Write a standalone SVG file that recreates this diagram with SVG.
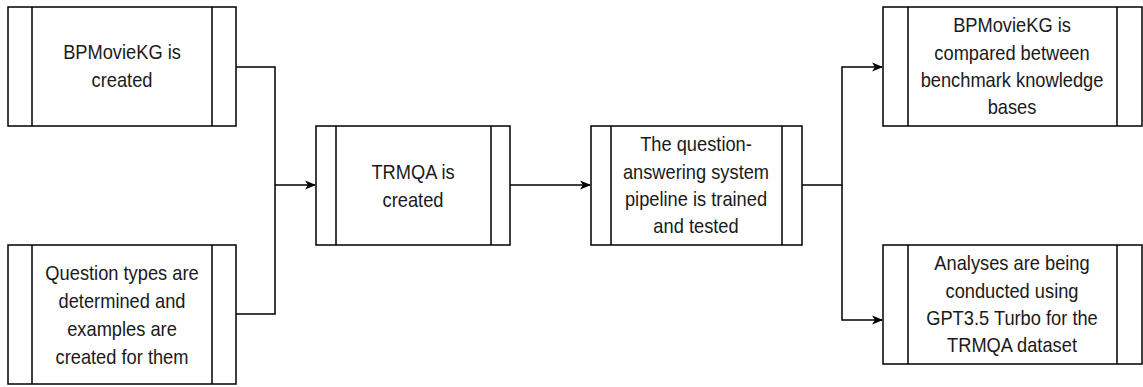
<svg xmlns="http://www.w3.org/2000/svg" width="1143" height="387" viewBox="0 0 1143 387">
<defs>
<marker id="arr" viewBox="0 0 10 10" refX="9" refY="5" markerWidth="11" markerHeight="11" markerUnits="userSpaceOnUse" orient="auto">
<path d="M0,1 L10,5 L0,9 L2.5,5 Z" fill="#000"/>
</marker>
<style>
.box{fill:#fff;stroke:#000;stroke-width:1.5}
.ln{stroke:#000;stroke-width:1.5;fill:none}
.t{font-family:"Liberation Sans",Arial,sans-serif;font-size:21px;fill:#1a1a1a;text-anchor:middle}
</style>
</defs>
<rect width="1143" height="387" fill="#fff"/>
<g id="connectors">
<path class="ln" d="M236,67 H275 V314 H236"/>
<path class="ln" d="M275,185 H315" marker-end="url(#arr)"/>
<path class="ln" d="M510,185 H590" marker-end="url(#arr)"/>
<path class="ln" d="M802,185 H842 V67 H882" marker-end="url(#arr)"/>
<path class="ln" d="M842,185 V320 H882" marker-end="url(#arr)"/>
</g>
<g id="n1">
<rect class="box" x="8" y="7" width="228" height="119"/>
<path class="ln" d="M32,7 V126 M212,7 V126"/>
<text class="t" transform="translate(122,59) scale(0.87,1)">BPMovieKG is</text>
<text class="t" transform="translate(122,87) scale(0.87,1)">created</text>
</g>
<g id="n2">
<rect class="box" x="8" y="245" width="228" height="139"/>
<path class="ln" d="M32,245 V384 M212,245 V384"/>
<text class="t" transform="translate(122,280) scale(0.87,1)">Question types are</text>
<text class="t" transform="translate(122,308) scale(0.87,1)">determined and</text>
<text class="t" transform="translate(122,336) scale(0.87,1)">examples are</text>
<text class="t" transform="translate(122,364) scale(0.87,1)">created for them</text>
</g>
<g id="n3">
<rect class="box" x="316" y="126" width="194" height="119"/>
<path class="ln" d="M336,126 V245 M491,126 V245"/>
<text class="t" transform="translate(413,179) scale(0.87,1)">TRMQA is</text>
<text class="t" transform="translate(413,207) scale(0.87,1)">created</text>
</g>
<g id="n4">
<rect class="box" x="591" y="126" width="211" height="119"/>
<path class="ln" d="M611,126 V245 M782,126 V245"/>
<text class="t" transform="translate(696,151) scale(0.87,1)">The question-</text>
<text class="t" transform="translate(696,179) scale(0.87,1)">answering system</text>
<text class="t" transform="translate(696,206) scale(0.87,1)">pipeline is trained</text>
<text class="t" transform="translate(696,233) scale(0.87,1)">and tested</text>
</g>
<g id="n5">
<rect class="box" x="883" y="7" width="259" height="119"/>
<path class="ln" d="M908,7 V126 M1117,7 V126"/>
<text class="t" transform="translate(1012,32) scale(0.87,1)">BPMovieKG is</text>
<text class="t" transform="translate(1012,60) scale(0.87,1)">compared between</text>
<text class="t" transform="translate(1012,87) scale(0.87,1)">benchmark knowledge</text>
<text class="t" transform="translate(1012,114) scale(0.87,1)">bases</text>
</g>
<g id="n6">
<rect class="box" x="883" y="245" width="259" height="119"/>
<path class="ln" d="M908,245 V364 M1117,245 V364"/>
<text class="t" transform="translate(1012,270) scale(0.87,1)">Analyses are being</text>
<text class="t" transform="translate(1012,298) scale(0.87,1)">conducted using</text>
<text class="t" transform="translate(1012,325) scale(0.87,1)">GPT3.5 Turbo for the</text>
<text class="t" transform="translate(1012,352) scale(0.87,1)">TRMQA dataset</text>
</g>
</svg>
